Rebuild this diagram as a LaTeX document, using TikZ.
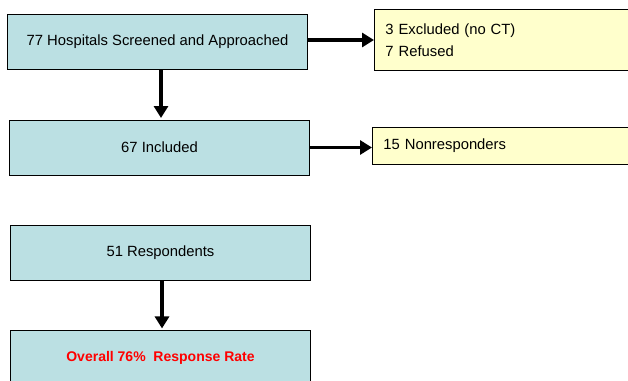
\documentclass[tikz,border=0pt]{standalone}
\usepackage{fontspec}
\setmainfont{Liberation Sans}
\usetikzlibrary{arrows.meta}
\definecolor{stagefill}{HTML}{BBE0E3}
\definecolor{notefill}{HTML}{FFFFCC}

\begin{document}
\begin{tikzpicture}
[x=1pt,y=-1pt,%
  every node/.style={shape=rectangle,draw,line width=0.9pt,inner sep=0pt},%
  stage/.style={fill=stagefill,minimum width=300pt,minimum height=55pt},%
  note/.style={fill=notefill,anchor=north west,text width=270pt,align=left,inner xsep=11pt},%
  flow/.style={line width=3.6pt,-{Triangle[length=12pt,width=14pt]}}]
\fontsize{14.8}{22}\selectfont
\useasboundingbox (0,0) rectangle (628,380);
\clip (0,0) rectangle (628,380);
\node[stage] (screened) at (157.5,41.5) {77 Hospitals Screened and Approached};
\node[stage] (included) at (159.5,147.5) {67 Included};
\node[stage] (respondents) at (160.5,252.5) {51 Respondents};
\node[stage] (rate) at (160.5,357.5) {\color{red}\fontsize{14}{16}\selectfont\bfseries Overall 76\%\ \ Response Rate};
\node[note,minimum height=61pt] (excluded) at (374,9) {3 Excluded (no CT)\\7 Refused};
\node[note,minimum height=37pt] (nonresp) at (372,127) {15 Nonresponders};
\draw[flow] (screened.east |- 0,40) -- (excluded.west |- 0,40);
\draw[flow] (screened.south -| 0,0) ++(161,0) -- (161,118);
\draw[flow] (included.east) -- (nonresp.west |- included.east);
\draw[flow] (respondents.south) ++(1.5,0) -- ++(0,48);
\end{tikzpicture}
\end{document}
